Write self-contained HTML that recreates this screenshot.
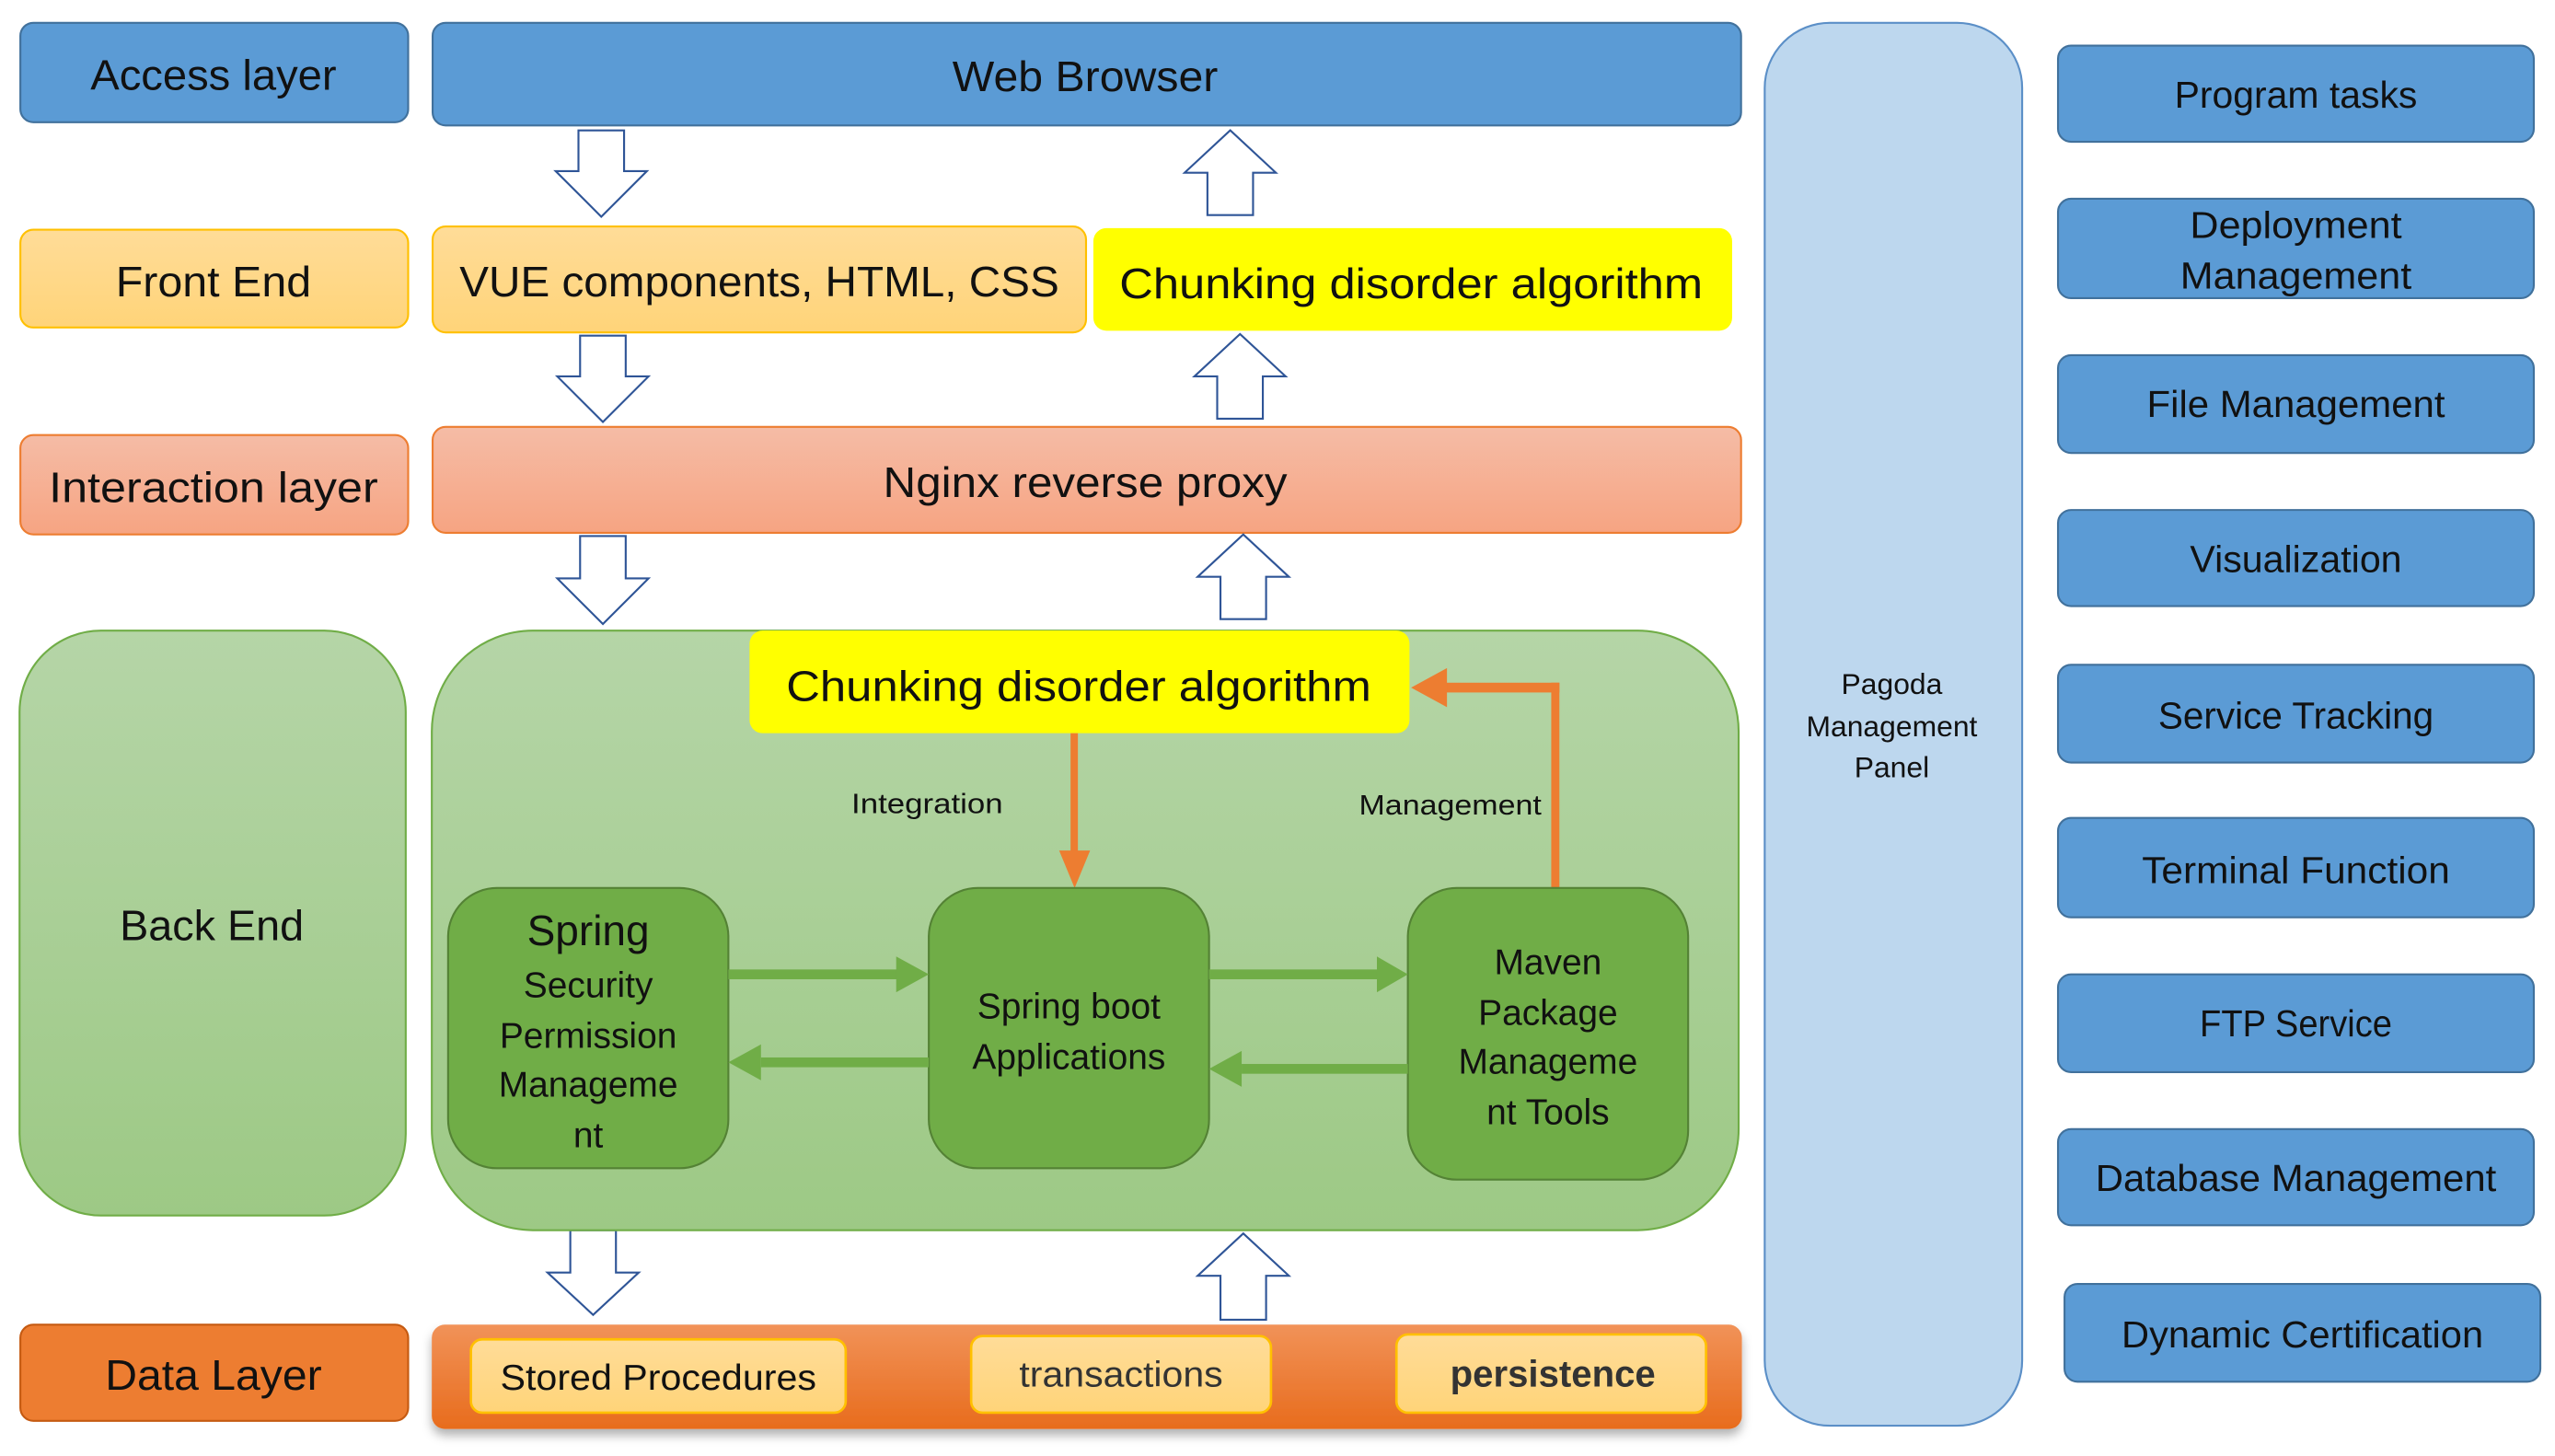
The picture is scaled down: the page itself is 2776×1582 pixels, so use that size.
<!DOCTYPE html>
<html><head><meta charset="utf-8"><style>
html,body{margin:0;padding:0;background:#fff;}
svg{display:block;}
text{font-family:"Liberation Sans",sans-serif;fill:#111;}
</style></head><body>
<svg width="2776" height="1582" viewBox="0 0 1568 893.6" preserveAspectRatio="none" xmlns="http://www.w3.org/2000/svg">
<defs>
<linearGradient id="gy" x1="0" y1="0" x2="0" y2="1"><stop offset="0" stop-color="#ffdc98"/><stop offset="1" stop-color="#ffd479"/></linearGradient>
<linearGradient id="gs" x1="0" y1="0" x2="0" y2="1"><stop offset="0" stop-color="#f5bca6"/><stop offset="1" stop-color="#f6a482"/></linearGradient>
<linearGradient id="gg" x1="0" y1="0" x2="0" y2="1"><stop offset="0" stop-color="#b5d5a7"/><stop offset="1" stop-color="#9dc985"/></linearGradient>
<linearGradient id="go" x1="0" y1="0" x2="0" y2="1"><stop offset="0" stop-color="#f19258"/><stop offset="1" stop-color="#e86c1d"/></linearGradient>
<filter id="sh" x="-5%" y="-20%" width="110%" height="150%"><feDropShadow dx="0" dy="4" stdDeviation="3" flood-color="#000" flood-opacity="0.3"/></filter>
</defs>

<!-- Access layer row -->
<rect x="12.5" y="14" width="238" height="61" rx="8" fill="#5b9bd5" stroke="#41719c" stroke-width="1.2"/>
<text x="131" y="55" font-size="26" text-anchor="middle" textLength="151" lengthAdjust="spacingAndGlyphs">Access layer</text>
<rect x="265.5" y="14" width="803" height="63" rx="8" fill="#5b9bd5" stroke="#41719c" stroke-width="1.2"/>
<text x="666" y="56" font-size="26" text-anchor="middle" textLength="163" lengthAdjust="spacingAndGlyphs">Web Browser</text>

<!-- Front end row -->
<rect x="12.5" y="141" width="238" height="60" rx="8" fill="url(#gy)" stroke="#ffc000" stroke-width="1.2"/>
<text x="131" y="182" font-size="26" text-anchor="middle" textLength="120" lengthAdjust="spacingAndGlyphs">Front End</text>
<rect x="265.5" y="139" width="401" height="65" rx="8" fill="url(#gy)" stroke="#ffc000" stroke-width="1.2"/>
<text x="466" y="182" font-size="26" text-anchor="middle" textLength="368" lengthAdjust="spacingAndGlyphs">VUE components, HTML, CSS</text>
<rect x="671" y="140" width="392" height="63" rx="8" fill="#ffff00"/>
<text x="866" y="183" font-size="26" text-anchor="middle" textLength="358" lengthAdjust="spacingAndGlyphs">Chunking disorder algorithm</text>

<!-- Interaction row -->
<rect x="12.5" y="267" width="238" height="61" rx="8" fill="url(#gs)" stroke="#ed7d31" stroke-width="1.2"/>
<text x="131" y="308" font-size="26" text-anchor="middle" textLength="202" lengthAdjust="spacingAndGlyphs">Interaction layer</text>
<rect x="265.5" y="262" width="803" height="65" rx="8" fill="url(#gs)" stroke="#ed7d31" stroke-width="1.2"/>
<text x="666" y="305" font-size="26" text-anchor="middle" textLength="248" lengthAdjust="spacingAndGlyphs">Nginx reverse proxy</text>

<!-- Hollow arrows -->
<g fill="#fff" stroke="#2f5597" stroke-width="1.2">
<path d="M355,80 H383 V105 H397 L369,133 L341,105 H355 Z"/>
<path d="M741,132 H769 V106 H783 L755,80 L727,106 H741 Z"/>
<path d="M356,206 H384 V231 H398 L370,259 L342,231 H356 Z"/>
<path d="M747,257 H775 V231 H789 L761,205 L733,231 H747 Z"/>
<path d="M356,329 H384 V355 H398 L370,383 L342,355 H356 Z"/>
<path d="M749,380 H777 V354 H791 L763,328 L735,354 H749 Z"/>
<path d="M350,755 H378 V781 H392 L364,807 L336,781 H350 Z"/>
<path d="M749,810 H777 V783 H791 L763,757 L735,783 H749 Z"/>
</g>

<!-- Back end -->
<rect x="12" y="387" width="237" height="359" rx="50" fill="url(#gg)" stroke="#70ad47" stroke-width="1.2"/>
<text x="130" y="577" font-size="26" text-anchor="middle" textLength="113" lengthAdjust="spacingAndGlyphs">Back End</text>
<rect x="265" y="387" width="802" height="368" rx="62" fill="url(#gg)" stroke="#70ad47" stroke-width="1.2"/>
<rect x="460" y="387" width="405" height="63" rx="8" fill="#ffff00"/>
<text x="662" y="430" font-size="26" text-anchor="middle" textLength="359" lengthAdjust="spacingAndGlyphs">Chunking disorder algorithm</text>

<text x="569" y="499" font-size="17" text-anchor="middle" textLength="93" lengthAdjust="spacingAndGlyphs">Integration</text>
<text x="890" y="500" font-size="17" text-anchor="middle" textLength="112" lengthAdjust="spacingAndGlyphs">Management</text>

<!-- orange arrows -->
<g fill="#ed7d31">
<rect x="657" y="450" width="4.5" height="75"/>
<path d="M650,522 H669 L659.5,545 Z"/>
<rect x="952" y="419" width="5" height="126"/>
<rect x="884" y="419" width="73" height="6"/>
<path d="M888,410 V434 L866,422 Z"/>
</g>

<!-- green inner boxes -->
<g fill="#70ad47" stroke="#548235" stroke-width="1.2">
<rect x="275" y="545" width="172" height="172" rx="30"/>
<rect x="570" y="545" width="172" height="172" rx="30"/>
<rect x="864" y="545" width="172" height="179" rx="30"/>
</g>
<g fill="#70ad47">
<rect x="447" y="595" width="105" height="6"/>
<path d="M550,587 L570,598 L550,609 Z"/>
<rect x="467" y="649" width="103" height="6"/>
<path d="M467,641 L447,652 L467,663 Z"/>
<rect x="742" y="595" width="104" height="6"/>
<path d="M845,587 L864,598 L845,609 Z"/>
<rect x="762" y="653" width="102" height="6"/>
<path d="M762,645 L742,656 L762,667 Z"/>
</g>
<g font-size="22" text-anchor="middle">
<text x="361" y="580" font-size="26">Spring</text>
<text x="361" y="612">Security</text>
<text x="361" y="643">Permission</text>
<text x="361" y="673">Manageme</text>
<text x="361" y="704">nt</text>
<text x="656" y="625">Spring boot</text>
<text x="656" y="656">Applications</text>
<text x="950" y="598">Maven</text>
<text x="950" y="629">Package</text>
<text x="950" y="659">Manageme</text>
<text x="950" y="690">nt Tools</text>
</g>

<!-- data layer -->
<rect x="12.5" y="813" width="238" height="59" rx="8" fill="#ed7d31" stroke="#c55a11" stroke-width="1.2"/>
<text x="131" y="853" font-size="26" text-anchor="middle" textLength="133" lengthAdjust="spacingAndGlyphs">Data Layer</text>
<rect x="265" y="813" width="804" height="64" rx="8" fill="url(#go)" filter="url(#sh)"/>
<g fill="url(#gy)" stroke="#ffc000" stroke-width="1.5">
<rect x="289" y="822" width="230" height="45" rx="7"/>
<rect x="596" y="820" width="184" height="47" rx="7"/>
<rect x="857" y="819" width="190" height="48" rx="7"/>
</g>
<text x="404" y="853" font-size="22" text-anchor="middle" textLength="194" lengthAdjust="spacingAndGlyphs">Stored Procedures</text>
<text x="688" y="851" font-size="22" text-anchor="middle" fill="#333" textLength="125" lengthAdjust="spacingAndGlyphs" style="fill:#333">transactions</text>
<text x="953" y="851" font-size="23" font-weight="bold" text-anchor="middle" textLength="126" lengthAdjust="spacingAndGlyphs" style="fill:#333">persistence</text>

<!-- Pagoda -->
<rect x="1083" y="14" width="158" height="861" rx="40" fill="#bdd7ee" stroke="#5b8fc7" stroke-width="1.2"/>
<g font-size="18" text-anchor="middle">
<text x="1161" y="426">Pagoda</text>
<text x="1161" y="452">Management</text>
<text x="1161" y="477">Panel</text>
</g>

<!-- right boxes -->
<g fill="#5b9bd5" stroke="#41719c" stroke-width="1.2">
<rect x="1263" y="28" width="292" height="59" rx="8"/>
<rect x="1263" y="122" width="292" height="61" rx="8"/>
<rect x="1263" y="218" width="292" height="60" rx="8"/>
<rect x="1263" y="313" width="292" height="59" rx="8"/>
<rect x="1263" y="408" width="292" height="60" rx="8"/>
<rect x="1263" y="502" width="292" height="61" rx="8"/>
<rect x="1263" y="598" width="292" height="60" rx="8"/>
<rect x="1263" y="693" width="292" height="59" rx="8"/>
<rect x="1267" y="788" width="292" height="60" rx="8"/>
</g>
<g font-size="23" text-anchor="middle">
<text x="1409" y="66" textLength="149" lengthAdjust="spacingAndGlyphs">Program tasks</text>
<text x="1409" y="146" textLength="130" lengthAdjust="spacingAndGlyphs">Deployment</text>
<text x="1409" y="177" textLength="142" lengthAdjust="spacingAndGlyphs">Management</text>
<text x="1409" y="256" textLength="183" lengthAdjust="spacingAndGlyphs">File Management</text>
<text x="1409" y="351" textLength="130" lengthAdjust="spacingAndGlyphs">Visualization</text>
<text x="1409" y="447" textLength="169" lengthAdjust="spacingAndGlyphs">Service Tracking</text>
<text x="1409" y="542" textLength="189" lengthAdjust="spacingAndGlyphs">Terminal Function</text>
<text x="1409" y="636" textLength="118" lengthAdjust="spacingAndGlyphs">FTP Service</text>
<text x="1409" y="731" textLength="246" lengthAdjust="spacingAndGlyphs">Database Management</text>
<text x="1413" y="827" textLength="222" lengthAdjust="spacingAndGlyphs">Dynamic Certification</text>
</g>
</svg>
</body></html>
